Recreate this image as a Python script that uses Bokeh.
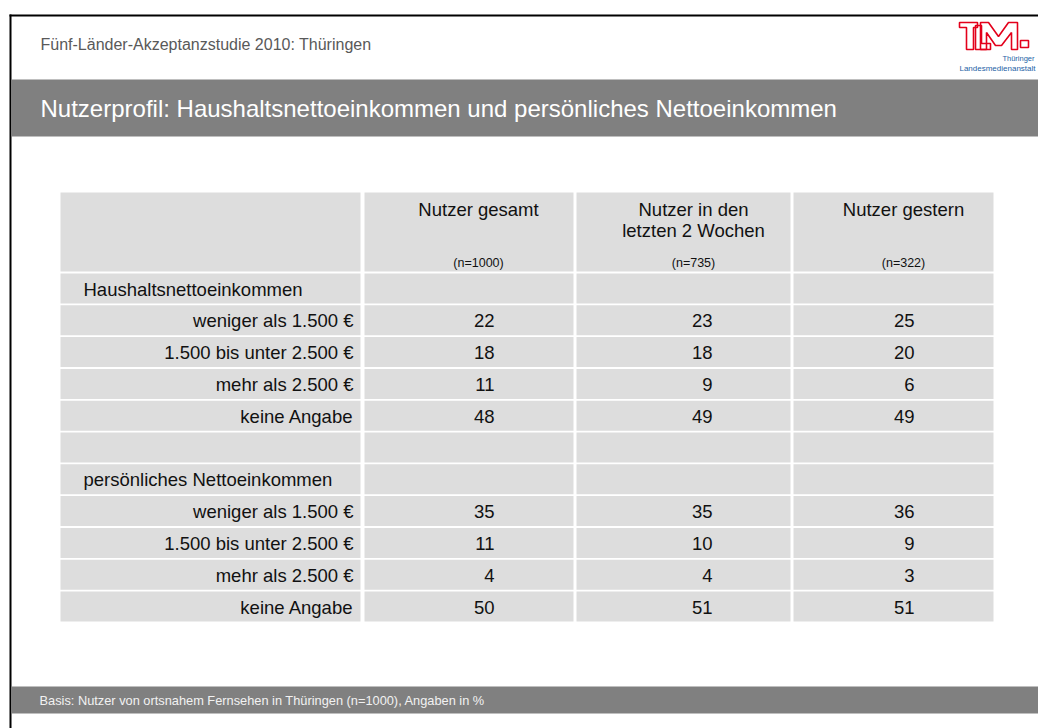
from bokeh.plotting import figure
from bokeh.models import Range1d, ColumnDataSource
from bokeh.core.properties import value
from bokeh.embed import file_html
from bokeh.resources import INLINE

# ---------------- data ----------------
header_text = "Fünf-Länder-Akzeptanzstudie 2010: Thüringen"
title_text = "Nutzerprofil: Haushaltsnettoeinkommen und persönliches Nettoeinkommen"
footer_text = "Basis: Nutzer von ortsnahem Fernsehen in Thüringen (n=1000), Angaben in %"

column_titles = [["Nutzer gesamt"], ["Nutzer in den", "letzten 2 Wochen"], ["Nutzer gestern"]]
column_n = ["(n=1000)", "(n=735)", "(n=322)"]

row_labels = [
    "Haushaltsnettoeinkommen",
    "weniger als 1.500 €",
    "1.500 bis unter 2.500 €",
    "mehr als 2.500 €",
    "keine Angabe",
    "",
    "persönliches Nettoeinkommen",
    "weniger als 1.500 €",
    "1.500 bis unter 2.500 €",
    "mehr als 2.500 €",
    "keine Angabe",
]
section_rows = [0, 6]
nutzer_gesamt = [None, 22, 18, 11, 48, None, None, 35, 11, 4, 50]
nutzer_2_wochen = [None, 23, 18, 9, 49, None, None, 35, 10, 4, 51]
nutzer_gestern = [None, 25, 20, 6, 49, None, None, 36, 9, 3, 51]
series = [nutzer_gesamt, nutzer_2_wochen, nutzer_gestern]

# ---------------- layout ----------------
FONT = "Liberation Sans"
CELL = "#dddddd"
BAND = "#808080"
W, H = 1038, 728

p = figure(width=W, height=H, x_range=Range1d(0, W), y_range=Range1d(H, 0),
           output_backend="svg", toolbar_location=None, x_axis_type=None, y_axis_type=None,
           min_border=0)
p.outline_line_color = None
p.background_fill_color = "white"
p.border_fill_color = "white"

# frame borders
p.quad(left=[9], right=[W], top=[14], bottom=[16], fill_color="black", line_color=None)
p.quad(left=[9], right=[11], top=[14], bottom=[H], fill_color="black", line_color=None)

# header text
p.text(x=[40], y=[44], text=[header_text], text_font=value(FONT), text_font_size="16px",
       text_color="#595959", text_baseline="middle", text_align="left")

# title band
p.quad(left=[11], right=[W], top=[79], bottom=[136], fill_color=BAND, line_color=None)
p.text(x=[40], y=[108], text=[title_text], text_font=value(FONT), text_font_size="24px",
       text_color="white", text_baseline="middle", text_align="left")

# footer band
p.quad(left=[11], right=[W], top=[686], bottom=[713], fill_color=BAND, line_color=None)
p.text(x=[39], y=[700], text=[footer_text], text_font=value(FONT), text_font_size="12.8px",
       text_color="#f2f2f2", text_baseline="middle", text_align="left")

# logo
red = "#e3001b"
blue = "#1d5fa6"
p.patches(
    xs=[[959, 977, 977, 973, 973, 966, 966, 959],
        [975, 981, 981, 990, 990, 975],
        [980, 988, 998, 1008, 1017, 1017, 1011, 1011, 1001, 995, 986, 986, 980]],
    ys=[[22, 22, 27, 27, 49, 49, 27, 27],
        [25, 25, 43, 43, 49, 49],
        [22, 22, 36, 22, 22, 49, 49, 32, 45, 45, 32, 49, 49]],
    fill_color="white", fill_alpha=0.0, line_color=red, line_width=1.6)
p.quad(left=[1020], right=[1028], top=[40], bottom=[47], fill_color="white", line_color=red,
       line_width=1.6)
p.text(x=[1034], y=[58], text=["Thüringer"], text_font=value(FONT),
       text_font_size="7.5px", text_color=blue, text_baseline="middle", text_align="right")
p.text(x=[1035], y=[68], text=["Landesmedienanstalt"], text_font=value(FONT),
       text_font_size="8px", text_color=blue, text_baseline="middle", text_align="right")

# table geometry
col_left = [60, 364, 576, 793]
col_right = [360, 573, 790, 993]
head_top, head_bot = 192, 271
row_top0, row_pitch, row_h = 273, 31.8, 30
num_right = [494, 712, 914]
head_center = [478, 693, 903]

L, R, T, B = [], [], [], []
for c in range(4):
    L.append(col_left[c]); R.append(col_right[c]); T.append(head_top); B.append(head_bot)
for i in range(len(row_labels)):
    for c in range(4):
        L.append(col_left[c]); R.append(col_right[c])
        T.append(row_top0 + i * row_pitch); B.append(row_top0 + i * row_pitch + row_h)
p.quad(source=ColumnDataSource(dict(left=L, right=R, top=T, bottom=B)),
       left="left", right="right", top="top", bottom="bottom", fill_color=CELL, line_color=None)

# column headers
hx, hy, ht = [], [], []
for c, lines in enumerate(column_titles):
    for j, line in enumerate(lines):
        hx.append(head_center[c]); hy.append(209 + j * 21); ht.append(line)
p.text(x=hx, y=hy, text=ht, text_font=value(FONT), text_font_size="18.5px", text_color="#111111",
       text_baseline="middle", text_align="center")
p.text(x=head_center, y=[262] * 3, text=column_n, text_font=value(FONT), text_font_size="12.5px",
       text_color="#111111", text_baseline="middle", text_align="center")

# row labels
lx, ly, lt, la = [], [], [], []
for i, lab in enumerate(row_labels):
    if not lab:
        continue
    yc = row_top0 + i * row_pitch + row_h / 2 + 0.5
    if i in section_rows:
        lx.append(83); la.append("left")
    else:
        lx.append(353); la.append("right")
    ly.append(yc); lt.append(lab)
p.text(source=ColumnDataSource(dict(x=lx, y=ly, text=lt, align=la)), x="x", y="y", text="text",
       text_align="align", text_font=value(FONT), text_font_size="18.5px", text_color="#111111",
       text_baseline="middle")

# values
vx, vy, vt = [], [], []
for c, vals in enumerate(series):
    for i, v in enumerate(vals):
        if v is None:
            continue
        vx.append(num_right[c]); vy.append(row_top0 + i * row_pitch + row_h / 2 + 0.5); vt.append(str(v))
p.text(x=vx, y=vy, text=vt, text_font=value(FONT), text_font_size="18.5px", text_color="#111111",
       text_baseline="middle", text_align="right")

open("out.html", "w").write(file_html(p, INLINE))
